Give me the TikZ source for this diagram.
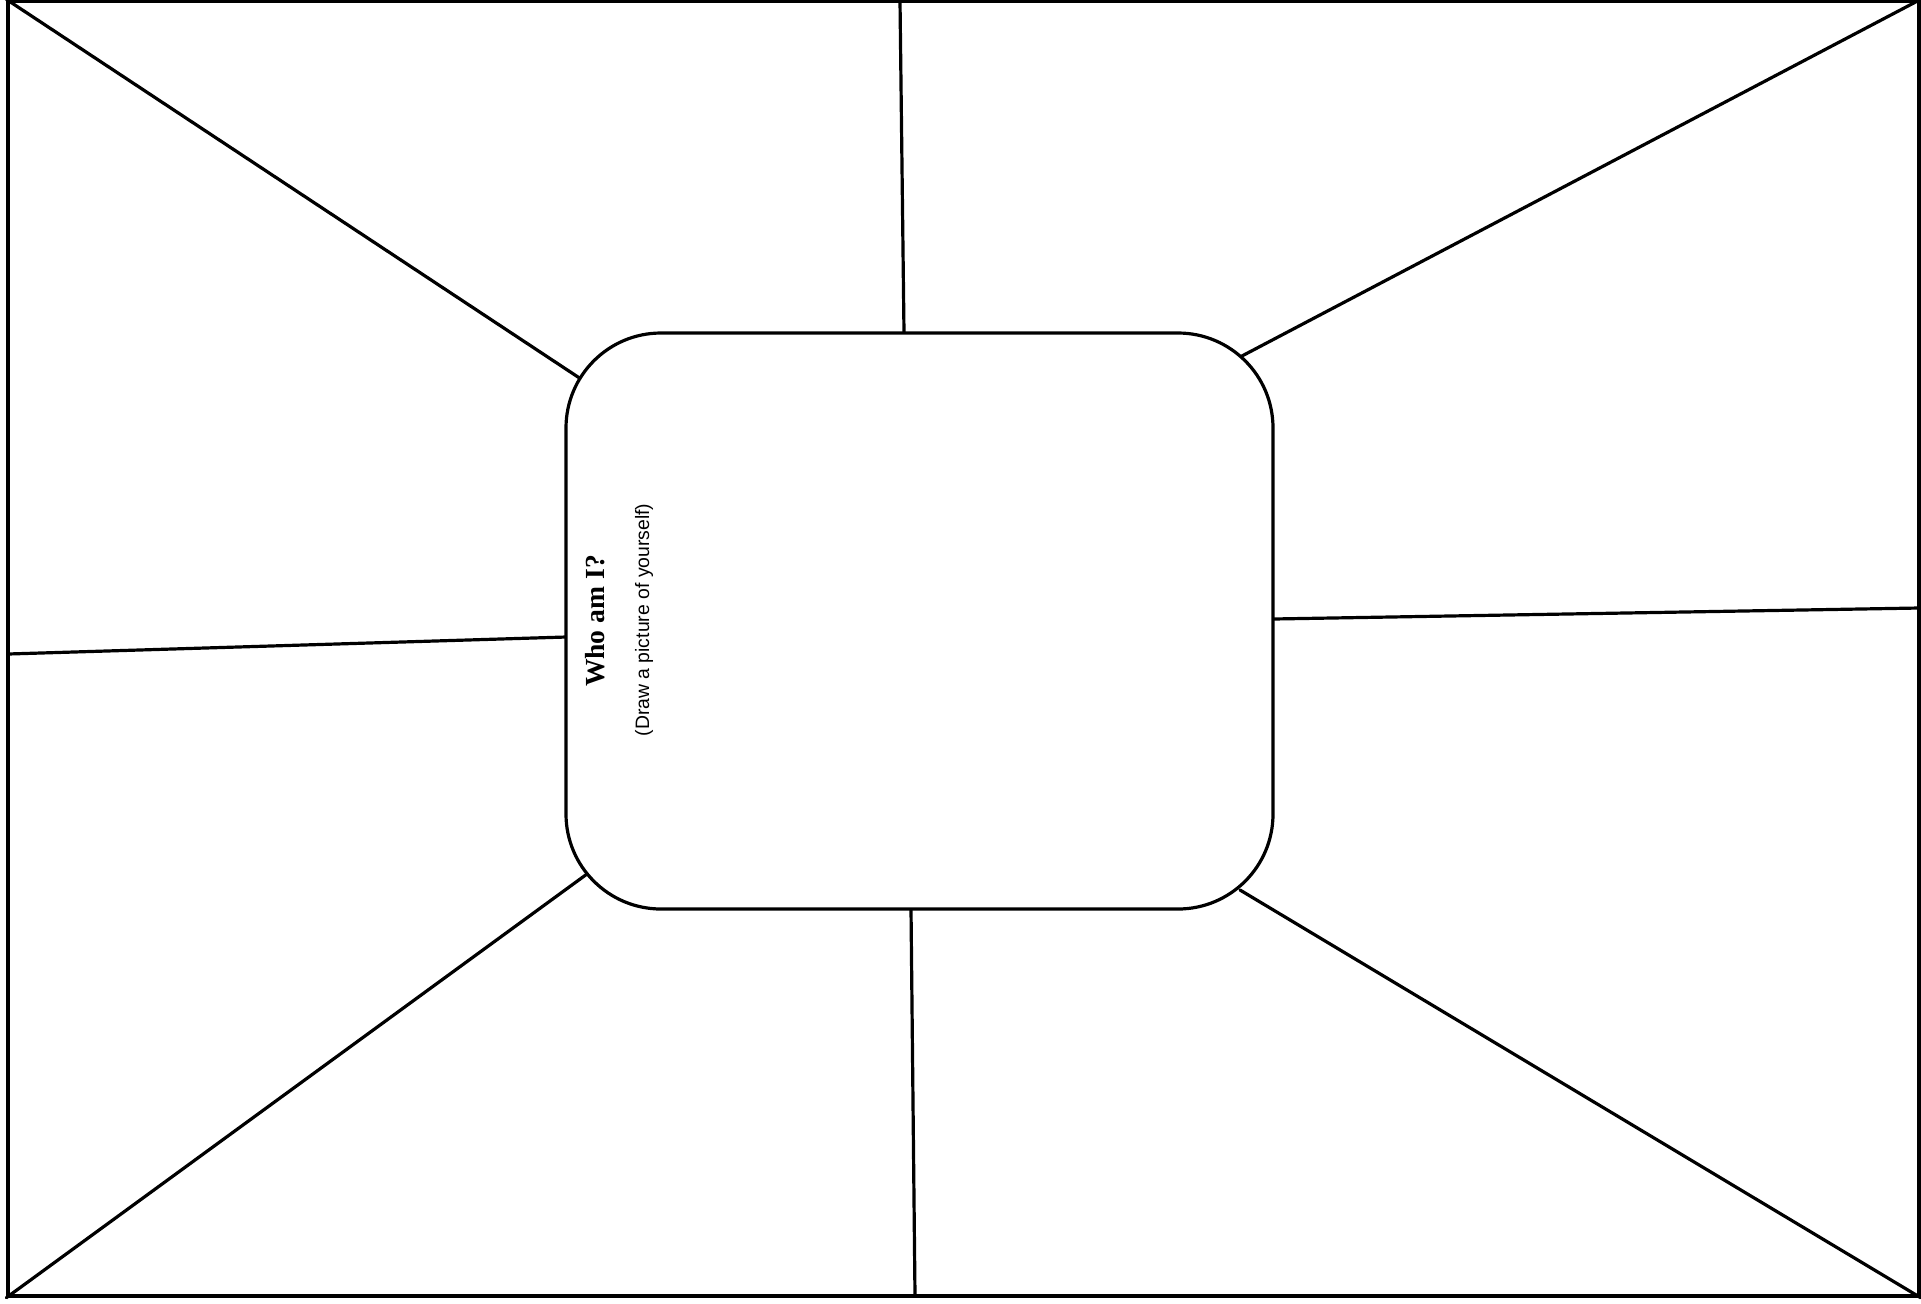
\documentclass[tikz,border=0pt]{standalone}
\usepackage{fontspec}
\newfontfamily\titelfont{Liberation Serif}
\newfontfamily\hinweisfont{Liberation Sans}

\begin{document}
\begin{tikzpicture}[x=0.5pt,y=-0.5pt,
		linie/.style={line width=1.6pt, line cap=round},
		mittelfeld/.style={draw, fill=white, line width=1.6pt, rounded corners=47.5pt,
			minimum width=353.5pt, minimum height=288pt, inner sep=0pt}]
		% Bildformat wie die Vorlage
		\useasboundingbox (0,0) rectangle (1921,1303);

		% Blattrahmen
		\node[draw, line width=1.7pt, minimum width=955.5pt, minimum height=647.5pt, inner sep=0pt]
			(blatt) at (963.5,648.5) {};

		% Endpunkte der Strahlen am Rahmen und am Mittelfeld
		\coordinate (obenA)   at (900,1);
		\coordinate (obenB)   at (904,333);
		\coordinate (rechtsA) at (1919,608);
		\coordinate (rechtsB) at (1273,619);
		\coordinate (untenA)  at (915,1296);
		\coordinate (untenB)  at (911,909);
		\coordinate (linksA)  at (8,654);
		\coordinate (linksB)  at (566,637);
		\coordinate (olB)     at (581,379);
		\coordinate (orB)     at (1240,357);
		\coordinate (urB)     at (1240,890);
		\coordinate (ulB)     at (587,874);

		% Strahlen vom Rahmen zum Mittelfeld
		\draw[linie] (blatt.north west) -- (olB);
		\draw[linie] (obenA) -- (obenB);
		\draw[linie] (blatt.north east) -- (orB);
		\draw[linie] (rechtsA) -- (rechtsB);
		\draw[linie] (blatt.south east) -- (urB);
		\draw[linie] (untenA) -- (untenB);
		\draw[linie] (blatt.south west) -- (ulB);
		\draw[linie] (linksA) -- (linksB);

		% Mittelfeld mit gedrehter Beschriftung
		\node[mittelfeld] (mitte) at (919.5,621) {};
		\node[rotate=90, font=\titelfont\bfseries\fontsize{13.8}{16}\selectfont] (frage) at (595,621) {Who am I?};
		\node[rotate=90, font=\hinweisfont\fontsize{9.7}{11}\selectfont] (hinweis) at (644,620) {(Draw a picture of yourself)};
	\end{tikzpicture}
\end{document}
